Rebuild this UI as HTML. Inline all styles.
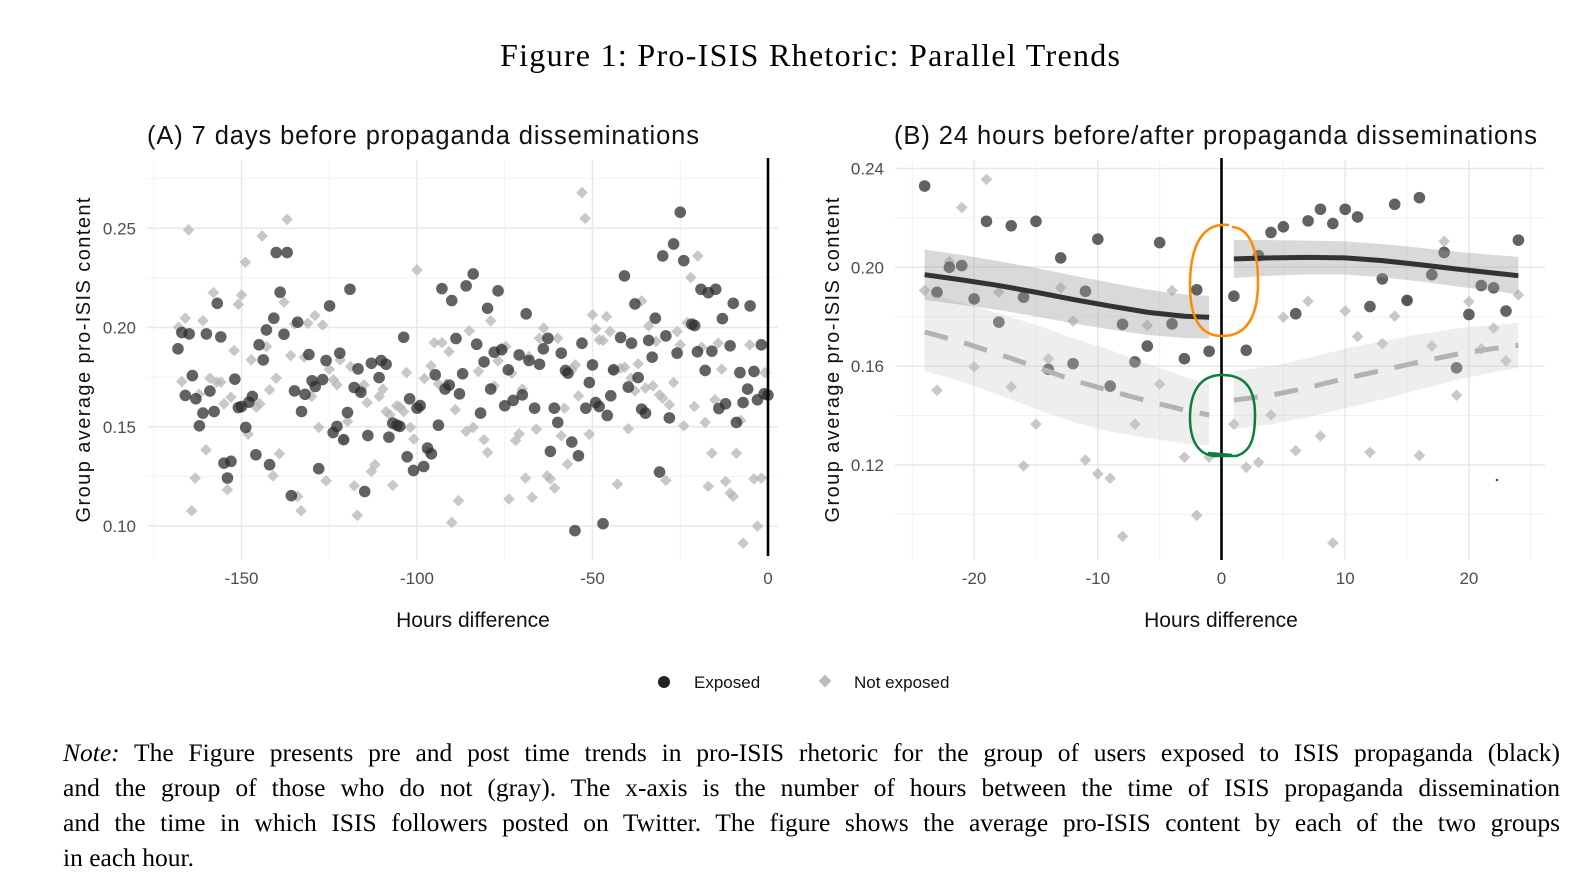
<!DOCTYPE html>
<html><head><meta charset="utf-8">
<style>
html,body{margin:0;padding:0;background:#fff;}
#wrap{position:relative;width:1588px;height:892px;overflow:hidden;background:#fff;}
svg{position:absolute;left:0;top:0;}
.note{position:absolute;left:63px;width:1497px;font-family:"Liberation Serif",serif;font-size:25.5px;color:#000;line-height:25px;white-space:nowrap;}
.just{text-align:justify;text-align-last:justify;}
</style></head>
<body>
<div id="wrap">
<svg id="svg" width="1588" height="892" viewBox="0 0 1588 892">
<text x="810" y="66" text-anchor="middle" font-family="Liberation Serif, serif" font-size="32" textLength="620" fill="#000">Figure 1: Pro-ISIS Rhetoric: Parallel Trends</text>
<text x="147" y="144" font-family="Liberation Sans, sans-serif" font-size="25.5" textLength="552" fill="#111">(A) 7 days before propaganda disseminations</text>
<text x="894" y="144" font-family="Liberation Sans, sans-serif" font-size="25.5" textLength="643" fill="#111">(B) 24 hours before/after propaganda disseminations</text>
<g id="gA"></g>
<g id="gB"></g>
<text transform="translate(90,360) rotate(-90)" text-anchor="middle" font-family="Liberation Sans, sans-serif" font-size="20" textLength="325" fill="#111">Group average pro-ISIS content</text>
<text transform="translate(839,360) rotate(-90)" text-anchor="middle" font-family="Liberation Sans, sans-serif" font-size="20" textLength="325" fill="#111">Group average pro-ISIS content</text>
<text x="473" y="627" text-anchor="middle" font-family="Liberation Sans, sans-serif" font-size="21" fill="#111">Hours difference</text>
<text x="1221" y="627" text-anchor="middle" font-family="Liberation Sans, sans-serif" font-size="21" fill="#111">Hours difference</text>
<g>
<circle cx="664" cy="682" r="6" fill="#222"/>
<text x="694" y="688" font-family="Liberation Sans, sans-serif" font-size="17" fill="#111">Exposed</text>
<rect x="820.5" y="676.5" width="9" height="9" transform="rotate(45 825 681)" fill="#bbb"/>
<text x="854" y="688" font-family="Liberation Sans, sans-serif" font-size="17" fill="#111">Not exposed</text>
</g>
<g>
<path d="M1229,225 C1200,222 1190,250 1190,285 C1190,318 1200,336 1222,336 C1248,336 1258,315 1258,282 C1258,250 1250,228 1232,227" fill="none" stroke="#ff8a00" stroke-width="2.5"/>
<path d="M1222,375 C1198,375 1190,395 1190,418 C1190,440 1198,455 1215,456 L1236,456 C1250,452 1255,440 1255,415 C1255,392 1248,375 1222,375 M1208,453 L1232,455" fill="none" stroke="#0a8040" stroke-width="2.5"/>
<circle cx="1497" cy="480" r="1.3" fill="#0a8040"/>
</g>
</svg>
<div class="note just" style="top:740px"><i>Note:</i> The Figure presents pre and post time trends in pro-ISIS rhetoric for the group of users exposed to ISIS propaganda (black)</div>
<div class="note just" style="top:775px">and the group of those who do not (gray). The x-axis is the number of hours between the time of ISIS propaganda dissemination</div>
<div class="note just" style="top:810px">and the time in which ISIS followers posted on Twitter. The figure shows the average pro-ISIS content by each of the two groups</div>
<div class="note" style="top:845px">in each hour.</div>
</div>
<script>
// ---------- Panel A data ----------
const aExpHours = [-168.1,-167.0,-164.9,-164.0,-166.0,-163.0,-162.0,-161.0,-160.0,-159.0,-157.8,-156.9,-155.9,-155.0,-154.0,-153.0,-151.9,-150.9,-150.0,-148.8,-147.9,-146.9,-145.9,-145.0,-143.8,-142.9,-142.0,-140.8,-140.1,-139.0,-137.9,-137.0,-135.8,-134.9,-134.0,-132.9,-131.9,-130.8,-129.9,-129.0,-128.0,-126.9,-125.9,-124.9,-123.9,-122.8,-122.0,-120.9,-119.8,-119.1,-117.9,-116.8,-116.0,-114.9,-114.0,-113.0,-110.8,-110.2,-108.8,-108.0,-106.9,-105.7,-104.9,-103.8,-102.8,-102.1,-101.0,-100.0,-99.1,-98.1,-97.0,-95.9,-94.8,-93.9,-92.9,-92.0,-90.8,-90.1,-88.9,
-87.9,-87.0,-86.0,-84.0,-83.0,-81.9,-80.9,-79.9,-79.0,-78.0,-76.9,-75.9,-75.0,-74.0,-72.6,-70.9,-70.0,-68.9,-68.1,-66.5,-65.1,-64.0,-62.7,-62.0,-60.9,-59.9,-58.9,-57.7,-57.0,-55.9,-55.0,-54.0,-53.0,-51.9,-50.9,-50.0,-49.1,-48.1,-47.0,-45.8,-44.8,-44.0,-42.0,-40.9,-39.8,-38.9,-37.9,-37.0,-36.0,-34.9,-34.0,-33.0,-32.1,-30.9,-30.0,-29.1,-28.1,-26.9,-25.9,-25.0,-24.0,-21.7,-20.9,-20.1,-19.1,-17.9,-17.0,-16.0,-14.9,-14.0,-13.0,-12.1,-10.8,-9.9,-9.0,-8.0,-7.1,-5.8,-5.1,-4.0,-3.0,-1.9,-1.1,0];
const aExpVals = [0.1893,0.1975,0.1968,0.1758,0.1658,0.1641,0.1505,0.1569,0.1968,0.1680,0.1577,0.2122,0.1953,0.1317,0.1242,0.1326,0.1740,0.1597,0.1602,0.1497,0.1624,0.1653,0.1359,0.1913,0.1837,0.1988,0.1309,0.2047,0.2378,0.2178,0.1966,0.2378,0.1153,0.1681,0.2027,0.1577,0.1664,0.1864,0.1732,0.1703,0.1289,0.1738,0.1834,0.2109,0.1471,0.1502,0.1871,0.1435,0.1572,0.2193,0.1698,0.1792,0.1674,0.1174,0.1456,0.1820,0.1748,0.1834,0.1815,0.1448,0.1518,0.1508,0.1502,0.1951,0.1349,0.1641,0.1280,0.1594,0.1607,0.1300,0.1393,0.1364,0.1762,0.1508,0.2196,0.1690,0.1710,0.2136,0.1945,
0.1666,0.1767,0.2210,0.2270,0.1916,0.1569,0.1827,0.2097,0.1690,0.1876,0.2185,0.1888,0.1606,0.1787,0.1633,0.1862,0.1661,0.2069,0.1834,0.1594,0.1815,0.1893,0.1946,0.1376,0.1594,0.1522,0.1871,0.1784,0.1770,0.1423,0.0977,0.1354,0.1921,0.1594,0.1723,0.1812,0.1622,0.1602,0.1012,0.1557,0.1656,0.1787,0.1950,0.2260,0.1700,0.1921,0.2119,0.1748,0.1589,0.1569,0.1935,0.1851,0.2047,0.1272,0.2361,0.1958,0.1545,0.2421,0.1871,0.2581,0.2337,0.2017,0.2010,0.1878,0.2193,0.1784,0.2176,0.1881,0.2193,0.1592,0.2045,0.1616,0.1908,0.2122,0.1522,0.1773,0.1622,0.1690,0.2109,0.1779,0.1636,0.1913,0.1666,0.166];
const aNonHours = [-167.9,-166.0,-167.0,-165.1,-164.2,-163.2,-162.1,-161.0,-160.1,-159.0,-158.0,-157.1,-155.9,-155.0,-154.0,-153.0,-152.1,-150.9,-150.0,-148.9,-148.1,-147.2,-145.8,-144.8,-144.1,-142.9,-142.0,-141.0,-140.1,-139.2,-137.9,-137.0,-136.0,-134.9,-134.0,-133.0,-132.1,-131.1,-130.0,-129.1,-128.0,-126.9,-125.9,-125.0,-123.8,-122.8,-121.9,-120.9,-119.8,-118.9,-117.9,-117.0,-116.0,-115.1,-114.2,-113.0,-112.0,-110.8,-109.7,-108.8,-107.7,-106.9,-105.8,-104.9,-103.8,-103.0,-101.9,-100.9,-100.0,-99.1,-97.9,-97.0,-96.0,-95.1,-93.9,-92.9,-91.7,-90.9,-90.1,-89.1,-88.2,
-86.0,-85.1,-84.0,-82.5,-80.9,-79.9,-79.0,-78.0,-76.9,-75.9,-74.7,-73.8,-73.0,-71.9,-70.9,-70.0,-69.1,-68.1,-67.2,-66.0,-65.1,-63.9,-62.9,-62.0,-60.8,-59.9,-58.9,-58.0,-57.1,-55.8,-54.9,-54.0,-53.0,-52.1,-50.9,-50.0,-49.1,-48.1,-47.0,-46.0,-45.0,-44.1,-42.9,-42.0,-40.8,-39.8,-39.0,-37.9,-37.0,-36.0,-34.9,-34.0,-32.8,-31.9,-30.9,-30.0,-29.1,-28.1,-26.9,-25.9,-25.0,-24.0,-23.0,-22.0,-21.0,-20.0,-18.9,-17.9,-17.0,-16.0,-15.1,-14.2,-13.2,-12.1,-10.8,-9.9,-9.0,-7.1,-7.8,-5.2,-4.0,-3.0,-1.9,-0.9,-0.5];
const aNonVals = [0.2002,0.2047,0.1728,0.2492,0.1077,0.1242,0.1664,0.2035,0.1384,0.1745,0.2176,0.1725,0.1725,0.1616,0.1183,0.1649,0.1884,0.2117,0.2164,0.2329,0.1463,0.1837,0.1599,0.1616,0.2461,0.1904,0.1686,0.1253,0.1745,0.1364,0.2128,0.2545,0.1859,0.2018,0.1149,0.1077,0.1851,0.2022,0.1653,0.2060,0.1497,0.2013,0.1228,0.1790,0.1737,0.1711,0.1837,0.1435,0.1527,0.1804,0.1203,0.1054,0.1686,0.1711,0.1622,0.1275,0.1309,0.1653,0.1690,0.1577,0.1560,0.1205,0.1606,0.1600,0.1577,0.1773,0.1497,0.1438,0.2290,0.1594,0.1743,0.1376,0.1807,0.1924,0.1715,0.1924,0.1716,0.1879,0.1018,0.1586,0.1128,
0.1477,0.1983,0.1497,0.1779,0.1435,0.1371,0.2034,0.1706,0.1832,0.1899,0.1904,0.1136,0.1770,0.1431,0.1465,0.1690,0.1242,0.1854,0.1144,0.1488,0.1946,0.1997,0.1253,0.1237,0.1191,0.1946,0.1455,0.1594,0.1312,0.1787,0.1812,0.1656,0.2680,0.2550,0.1463,0.2064,0.1993,0.1938,0.1935,0.2055,0.1980,0.1787,0.1211,0.1795,0.1800,0.1490,0.1745,0.1681,0.1817,0.2134,0.1695,0.2008,0.1706,0.1930,0.1661,0.1644,0.1230,0.1611,0.1723,0.1980,0.1913,0.1505,0.2025,0.2252,0.1602,0.2361,0.1901,0.1522,0.1200,0.1367,0.1636,0.1921,0.1790,0.1225,0.1166,0.1149,0.1367,0.0914,0.1532,0.1913,0.1237,0.1000,0.1242,0.1773];
const aXTicks = [-150,-100,-50,0];
const aYTicks = [0.10,0.15,0.20,0.25];
const aYTickLabels = ["0.10","0.15","0.20","0.25"];

// ---------- Panel B data ----------
const bExpHours = [-24,-23,-22,-21,-20,-19,-18,-17,-16,-15,-14,-13,-12,-11,-10,-9,-8,-7,-6,-5,-4,-3,-2,-1,1,2,3,4,5,6,7,8,9,10,11,12,13,14,15,16,17,18,19,20,21,22,23,24];
const bExpVals = [0.2329,0.1899,0.200,0.2007,0.1872,0.2186,0.1778,0.2168,0.1879,0.2186,0.1587,0.2038,0.161,0.1903,0.2114,0.1519,0.1769,0.1617,0.1681,0.210,0.1771,0.163,0.1909,0.166,0.1883,0.1664,0.2047,0.2141,0.2164,0.1812,0.2188,0.2235,0.2177,0.2235,0.2204,0.1841,0.1953,0.2255,0.1866,0.2282,0.197,0.206,0.1593,0.1809,0.1926,0.1917,0.1823,0.211];
const bNonHours = [-24,-23,-22,-21,-20,-19,-18,-17,-16,-15,-14,-13,-12,-11,-10,-9,-8,-7,-6,-5,-4,-3,-2,-1,1,2,3,4,5,6,7,8,9,10,11,12,13,14,15,16,17,18,19,20,21,22,23,24];
const bNonVals = [0.1906,0.1502,0.2023,0.2242,0.1597,0.2356,0.1899,0.1516,0.1196,0.1365,0.163,0.1917,0.1782,0.122,0.1164,0.1146,0.0911,0.1365,0.1765,0.1527,0.1906,0.1231,0.0996,0.1231,0.1365,0.1190,0.121,0.1402,0.1798,0.1258,0.1863,0.1317,0.0884,0.1823,0.172,0.1251,0.1691,0.1802,0.1866,0.1238,0.1681,0.2105,0.1482,0.1861,0.167,0.1754,0.1621,0.1888];
const fitPreHours = [-24,-21,-18,-15,-12,-9,-6,-3,-1];
const fitPostHours = [1,4,7,10,13,16,19,22,24];
const expPreFit = [0.1970,0.1949,0.1926,0.1899,0.1870,0.1843,0.1818,0.1802,0.1798];
const expPreSe = [0.0102,0.0101,0.0099,0.0098,0.0097,0.0095,0.0092,0.0088,0.0086];
const expPostFit = [0.2034,0.2038,0.2040,0.2038,0.2027,0.2011,0.1993,0.1977,0.1966];
const expPostSe = [0.0077,0.0072,0.0068,0.0067,0.0067,0.0068,0.0070,0.0073,0.0076];
const nonPreFit = [0.1738,0.1697,0.1648,0.1597,0.1543,0.1500,0.1459,0.1422,0.1402];
const nonPreSe = [0.0158,0.0160,0.0165,0.0170,0.0170,0.0165,0.0150,0.0135,0.0124];
const nonPostFit = [0.1462,0.1482,0.1513,0.1550,0.1583,0.1617,0.1648,0.1671,0.1684];
const nonPostSe = [0.0117,0.0118,0.0120,0.0121,0.0118,0.0112,0.0104,0.0096,0.0091];
const bXTicks = [-20,-10,0,10,20];
const bYTicks = [0.12,0.16,0.20,0.24];
const bYTickLabels = ["0.12","0.16","0.20","0.24"];

const NS = "http://www.w3.org/2000/svg";
function el(parent, tag, attrs) {
  const e = document.createElementNS(NS, tag);
  for (const k in attrs) e.setAttribute(k, attrs[k]);
  parent.appendChild(e);
  return e;
}
const xA = h => 768 + h * 3.51;
const yA = v => 228.3 + (0.25 - v) * 1985;
const xB = h => 1221.5 + h * 12.37;
const yB = v => 168.5 + (0.24 - v) * 2470;

function grid(g, xs, ys, xsMinor, ysMinor, x0, x1, y0, y1, name) {
  xsMinor.forEach(x => { const l = el(g, 'line', {x1:x, x2:x, y1:y0, y2:y1, stroke:'#f2f2f2', 'stroke-width':1});
    
     });
  ysMinor.forEach(y => { const l = el(g, 'line', {x1:x0, x2:x1, y1:y, y2:y, stroke:'#f2f2f2', 'stroke-width':1});
    
     });
  xs.forEach(x => { const l = el(g, 'line', {x1:x, x2:x, y1:y0, y2:y1, stroke:'#e8e8e8', 'stroke-width':1.5});
    
     });
  ys.forEach(y => { const l = el(g, 'line', {x1:x0, x2:x1, y1:y, y2:y, stroke:'#e8e8e8', 'stroke-width':1.5});
    
     });
}
function circles(g, hs, vs, fx, fy, name) {
  hs.forEach((h, i) => {
    const c = el(g, 'circle', {cx:fx(h), cy:fy(vs[i]), r:5.8, fill:'#2e2e2e', 'fill-opacity':0.75});
    
    
  });
}
function diamonds(g, hs, vs, fx, fy, name) {
  hs.forEach((h, i) => {
    const x = fx(h), y = fy(vs[i]), s = 5.8;
    const p = el(g, 'path', {d:`M${x},${y-s} L${x+s},${y} L${x},${y+s} L${x-s},${y} Z`, fill:'#b5b5b5', 'fill-opacity':0.75});
    
    
  });
}
function tickText(g, x, y, txt, anchor, name) {
  const t = el(g, 'text', {x:x, y:y, 'text-anchor':anchor, 'font-family':'Liberation Sans, sans-serif', 'font-size':17, fill:'#4d4d4d'});
  t.textContent = txt;
  
  
}

const gA = document.getElementById('gA');
grid(gA, aXTicks.map(xA), aYTicks.map(yA), [-175,-125,-75,-25].map(xA), [0.125,0.175,0.225,0.275].map(yA), 147, 778, 160, 560, 'panel-a');
aXTicks.forEach(t => tickText(gA, xA(t), 584, String(t), 'middle', 'panel-a-x-tick-label'));
aYTicks.forEach((t, i) => tickText(gA, 136, yA(t) + 6, aYTickLabels[i], 'end', 'panel-a-y-tick-label'));
diamonds(gA, aNonHours, aNonVals, xA, yA, 'panel-a-not-exposed-point');
circles(gA, aExpHours, aExpVals, xA, yA, 'panel-a-exposed-point');
const vA = el(gA, 'line', {x1:xA(0), x2:xA(0), y1:158, y2:556, stroke:'#000', 'stroke-width':2.6});



const gB = document.getElementById('gB');
grid(gB, bXTicks.map(xB), bYTicks.map(yB), [-25,-15,-5,5,15,25].map(xB), [0.10,0.14,0.18,0.22].map(yB), 895, 1545, 160, 560, 'panel-b');
bXTicks.forEach(t => tickText(gB, xB(t), 584, String(t), 'middle', 'panel-b-x-tick-label'));
bYTicks.forEach((t, i) => tickText(gB, 884, yB(t) + 6, bYTickLabels[i], 'end', 'panel-b-y-tick-label'));
diamonds(gB, bNonHours, bNonVals, xB, yB, 'panel-b-not-exposed-point');
circles(gB, bExpHours, bExpVals, xB, yB, 'panel-b-exposed-point');

function band(g, hs, fit, se, fill, op, name) {
  let d = '';
  hs.forEach((h, i) => { d += (i ? 'L' : 'M') + xB(h) + ',' + yB(fit[i] + se[i]) + ' '; });
  for (let i = hs.length - 1; i >= 0; i--) d += 'L' + xB(hs[i]) + ',' + yB(fit[i] - se[i]) + ' ';
  const p = el(g, 'path', {d:d + 'Z', fill:fill, 'fill-opacity':op});
  
  
}
function fitLine(g, hs, fit, color, dash, name) {
  const pts = hs.map((h, i) => xB(h) + ',' + yB(fit[i])).join(' ');
  const attrs = {points:pts, fill:'none', stroke:color, 'stroke-width':5, 'stroke-linejoin':'round'};
  if (dash) attrs['stroke-dasharray'] = dash;
  const p = el(g, 'polyline', attrs);
  
  
}
band(gB, fitPreHours, nonPreFit, nonPreSe, '#c8c8c8', 0.3, 'not-exposed-pre-ci-band');
band(gB, fitPostHours, nonPostFit, nonPostSe, '#c8c8c8', 0.3, 'not-exposed-post-ci-band');
band(gB, fitPreHours, expPreFit, expPreSe, '#9a9a9a', 0.38, 'exposed-pre-ci-band');
band(gB, fitPostHours, expPostFit, expPostSe, '#9a9a9a', 0.38, 'exposed-post-ci-band');
fitLine(gB, fitPreHours, nonPreFit, '#b3b3b3', '24 17', 'not-exposed-pre-trend');
fitLine(gB, fitPostHours, nonPostFit, '#b3b3b3', '24 17', 'not-exposed-post-trend');
fitLine(gB, fitPreHours, expPreFit, '#333333', null, 'exposed-pre-trend');
fitLine(gB, fitPostHours, expPostFit, '#333333', null, 'exposed-post-trend');
const vB = el(gB, 'line', {x1:xB(0), x2:xB(0), y1:158, y2:560, stroke:'#000', 'stroke-width':2.6});


</script>
</body></html>
